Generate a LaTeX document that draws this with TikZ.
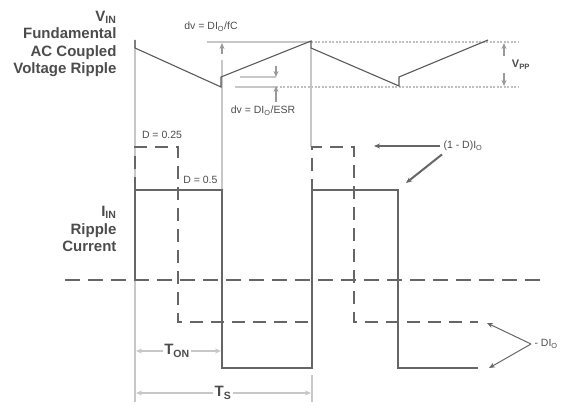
\documentclass[tikz,border=0pt]{standalone}
\usepackage{fontspec}
\setmainfont{Liberation Sans}
\usetikzlibrary{arrows.meta}

\tikzset{
	wave/.style={draw=black!60, line width=2.6pt},
	dwave/.style={wave, dash pattern=on 13pt off 8pt},
	guide/.style={draw=black!22, line width=1.6pt},
	dots/.style={draw=black!25, line width=2pt, dash pattern=on 2pt off 1.5pt},
	tip/.style={-{Stealth[length=6pt, width=5pt]}},
	lbl/.style={text=black!70, font=\bfseries\fontsize{15}{17.6}\selectfont, align=right},
	note/.style={text=black!70, font=\fontsize{10.5}{12}\selectfont},
}

\begin{document}
\begin{tikzpicture}[x=1pt, y=-1pt]
	\useasboundingbox (0,0) rectangle (572,406);

	\node [lbl, anchor=east] (vlbl) at (120,44) {V\textsubscript{IN}\\Fundamental\\AC Coupled\\Voltage Ripple};
	\node [lbl, anchor=east] (ilbl) at (120,229) {I\textsubscript{IN}\\Ripple\\Current};
	\node [note] (dvc) at (211,27) {dv = DI\textsubscript{O}/fC};
	\node [note] (dve) at (263,111) {dv = DI\textsubscript{O}/ESR};
	\node [note] (dlow) at (162,135) {D = 0.25};
	\node [note, anchor=east] (dhigh) at (221,180) {D = 0.5};
	\node [note, anchor=west] (ipos) at (440,146) {(1 - D)I\textsubscript{O}};
	\node [note, anchor=west] (ineg) at (531,344) {- DI\textsubscript{O}};
	\node [lbl, font=\bfseries\fontsize{11}{13}\selectfont] (vpp) at (521,65) {V\textsubscript{PP}};
	\node [lbl, fill=white, inner sep=1pt] (ton) at (177,351) {T\textsubscript{ON}};
	\node [lbl, fill=white, inner sep=1pt] (ts) at (223,393) {T\textsubscript{S}};

	\coordinate (g0a) at (135,40);   \coordinate (g0b) at (135,402);
	\coordinate (g1a) at (222,60);   \coordinate (g1b) at (222,190);
	\coordinate (g2a) at (311,48);   \coordinate (g2b) at (311,147);
	\coordinate (g3a) at (312,375);  \coordinate (g3b) at (312,402);
	\draw [guide] (g0a) -- (g0b);
	\draw [guide] (g1a) -- (g1b);
	\draw [guide] (g2a) -- (g2b);
	\draw [guide] (g3a) -- (g3b);

	\coordinate (top0) at (207,42);  \coordinate (top1) at (311,42);  \coordinate (top2) at (518,42);
	\coordinate (bot0) at (235,87);  \coordinate (bot1) at (276,87);  \coordinate (bot2) at (518,87);
	\coordinate (esr0) at (240,77);  \coordinate (esr1) at (276,77);
	\draw [guide] (top0) -- (top1);
	\draw [dots] (top1) -- (top2);
	\draw [guide] (bot0) -- (bot1);
	\draw [dots] (bot1) -- (bot2);
	\draw [guide] (esr0) -- (esr1);

	\coordinate (dvfrom) at (222,54);  \coordinate (dvto) at (222,43);
	\draw [guide, draw=black!40, tip] (dvfrom) -- (dvto);
	\coordinate (esrup) at (276,66);   \coordinate (esrlo) at (276,102);
	\draw [guide, draw=black!40, tip] (esrup) -- (esr1);
	\draw [guide, draw=black!40, tip] (esrlo) -- ([yshift=1pt]bot1);
	\coordinate (vppa) at (504,56);    \coordinate (vppb) at (504,73);
	\draw [guide, draw=black!40, tip] (vppa) -- (504,43);
	\draw [guide, draw=black!40, tip] (vppb) -- (504,86);

	\draw [black!65, line width=1.1pt] (135,40) -- (135,48) -- (221,87) -- (221,77) -- (311,41) -- (311,48) -- (399,86) -- (399,77) -- (488,40);

	\coordinate (z0) at (65,280);  \coordinate (z1) at (545,280);
	\draw [wave, dash pattern=on 15pt off 8pt] (z0) -- (z1);

	\draw [dwave] (135,190) -- (135,147) -- (178,147) -- (178,322) -- (312,322) -- (312,147) -- (354,147) -- (354,322) -- (478,322);
	\draw [wave] (135,280) -- (135,190) -- (222,190) -- (222,368) -- (312,368) -- (312,190) -- (398,190) -- (398,368) -- (478,368);

	\coordinate (ton0) at (136,351);  \coordinate (ton1) at (221,351);
	\draw [guide, tip] (ton.west) -- (ton0);
	\draw [guide, tip] (ton.east) -- (ton1);
	\coordinate (ts0) at (136,393);   \coordinate (ts1) at (311,393);
	\draw [guide, tip] (ts.west) -- (ts0);
	\draw [guide, tip] (ts.east) -- (ts1);

	\coordinate (posa) at (374,146);  \coordinate (posb) at (406,183);
	\draw [wave, line width=2pt, tip] (ipos.west) -- (posa);
	\draw [wave, line width=2pt, tip] ([xshift=2pt]ipos.south west) -- (posb);
	\coordinate (nega) at (487,323);  \coordinate (negb) at (489,368);
	\draw [black!60, line width=1pt, tip] (ineg.west) -- (nega);
	\draw [black!60, line width=1pt, tip] (ineg.west) -- (negb);
\end{tikzpicture}
\end{document}
